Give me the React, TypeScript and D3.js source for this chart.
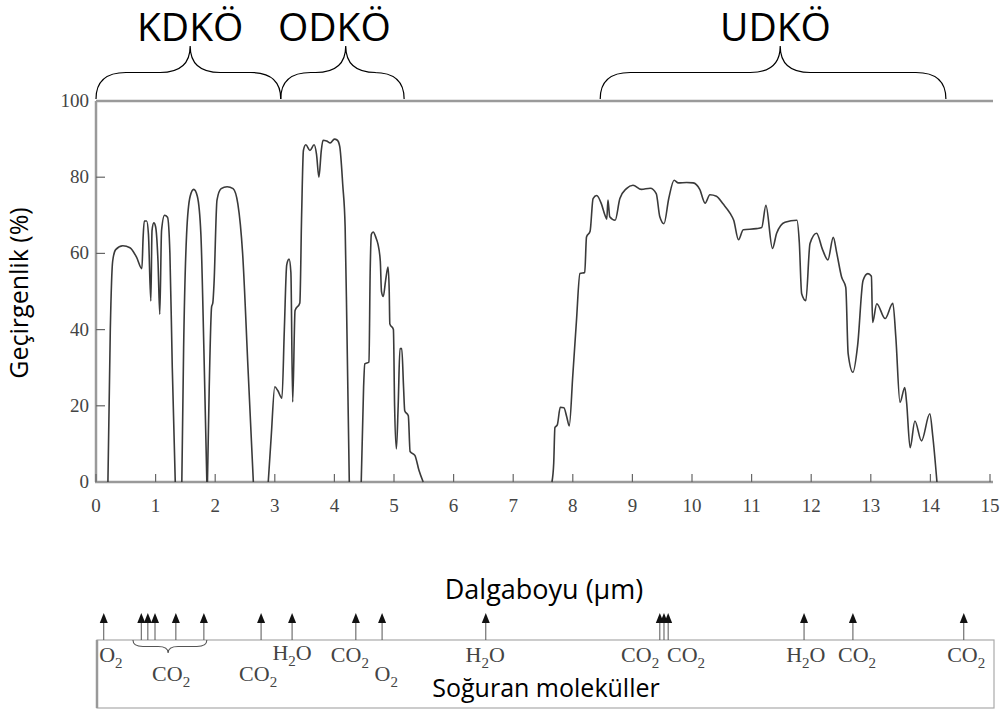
import { useRef, useEffect } from "react";
import * as d3 from "d3";

// transmittance curve, split where it sits on zero (wavelength µm, %)
const SEGMENTS: [number, number][][] = [
  [[0.2, 0], [0.24, 40], [0.28, 58], [0.33, 61], [0.45, 62], [0.57, 61.5], [0.68, 59], [0.77, 56], [0.79, 64], [0.81, 68.5], [0.85, 68.5], [0.88, 65], [0.92, 47.5], [0.94, 66], [0.97, 68], [1.0, 67], [1.04, 58], [1.07, 44], [1.1, 66], [1.15, 70], [1.2, 69.5], [1.24, 60], [1.28, 30], [1.33, 0]],
  [[1.44, 0], [1.47, 35], [1.52, 65], [1.58, 75], [1.64, 76.8], [1.7, 75], [1.76, 65], [1.81, 35], [1.86, 0]],
  [[1.87, 0], [1.9, 25], [1.94, 46], [1.96, 47], [1.98, 52], [2.03, 74], [2.1, 77], [2.2, 77.5], [2.3, 77], [2.38, 73], [2.46, 60], [2.55, 30], [2.64, 0]],
  [[2.89, 0], [2.94, 12], [3.0, 25], [3.05, 24], [3.12, 22], [3.16, 40], [3.2, 57], [3.24, 58.5], [3.27, 55], [3.3, 21], [3.34, 45], [3.42, 47], [3.45, 70], [3.48, 87], [3.52, 88.5], [3.59, 87], [3.66, 88.5], [3.7, 86], [3.74, 80], [3.78, 87], [3.81, 89.7], [3.87, 89.5], [3.93, 89], [4.0, 90], [4.05, 89.7], [4.09, 88], [4.14, 78], [4.18, 67], [4.21, 40], [4.25, 0]],
  [[4.45, 0], [4.49, 25], [4.51, 31], [4.58, 31.5], [4.6, 55], [4.62, 65], [4.65, 65.6], [4.7, 64], [4.73, 62.5], [4.77, 58], [4.79, 50], [4.82, 48.7], [4.86, 53], [4.9, 56.4], [4.92, 50], [4.93, 41.5], [4.99, 40], [5.01, 20], [5.04, 8.7], [5.07, 20], [5.1, 35], [5.13, 35], [5.16, 25], [5.18, 18.7], [5.24, 17.4], [5.27, 8], [5.35, 7], [5.42, 3], [5.49, 0]],
  [[7.65, 0], [7.68, 5], [7.7, 14.3], [7.74, 15], [7.79, 19.6], [7.85, 19.5], [7.9, 17], [7.94, 14.7], [8.0, 28], [8.06, 42], [8.12, 54.7], [8.2, 55], [8.23, 64.3], [8.29, 65.8], [8.34, 74.4], [8.4, 75.2], [8.48, 73], [8.54, 70], [8.57, 69], [8.59, 74], [8.62, 69.6], [8.71, 68.7], [8.79, 74.4], [8.9, 77], [9.01, 77.9], [9.15, 76.8], [9.3, 77.1], [9.4, 75.7], [9.46, 69.6], [9.53, 67.8], [9.61, 74.4], [9.7, 79.2], [9.77, 78.5], [9.91, 78.6], [10.02, 78.5], [10.13, 76.8], [10.22, 73.2], [10.3, 75.4], [10.41, 75], [10.52, 73], [10.64, 70.5], [10.7, 68.7], [10.78, 63.6], [10.86, 66.2], [11.08, 66.5], [11.17, 66.8], [11.24, 72.6], [11.35, 61.3], [11.42, 65.3], [11.56, 68.2], [11.76, 68.7], [11.8, 63], [11.84, 49.4], [11.91, 47.6], [11.98, 62.6], [12.09, 65.3], [12.19, 61], [12.28, 58.3], [12.37, 64.2], [12.43, 60], [12.51, 53.8], [12.58, 51.1], [12.62, 33.7], [12.7, 28.8], [12.78, 36], [12.87, 52.9], [12.95, 54.7], [13.01, 54], [13.03, 41.9], [13.1, 46.8], [13.24, 42.9], [13.37, 46.9], [13.42, 38], [13.49, 20.9], [13.57, 24.8], [13.6, 21], [13.66, 9], [13.74, 16], [13.85, 10.8], [13.99, 17.9], [14.04, 12], [14.11, 0]],
];

const X_TICKS = d3.range(0, 16);
const Y_TICKS = [0, 20, 40, 60, 80, 100];

// regions on top: [from, to, tip, label]
const REGIONS: [number, number, number, string][] = [
  [0, 3.1, 1.58, "KDKÖ"],
  [3.1, 5.17, 4.19, "ODKÖ"],
  [8.46, 14.26, 11.48, "UDKÖ"],
];
const REGION_LABEL_AT = [1.58, 4.0, 11.4];

// absorption arrows (µm)
const ARROWS = [0.13, 0.76, 0.87, 0.99, 1.34, 1.81, 2.77, 3.29, 4.36, 4.8, 6.54, 9.46, 9.53, 9.6, 11.88, 12.7, 14.56];

// molecule labels: [µm centre, formula base, subscript, tail, row]
const MOLECULES: [number, string, string, string, number][] = [
  [0.25, "O", "2", "", 0],
  [1.26, "CO", "2", "", 1],
  [2.72, "CO", "2", "", 1],
  [3.29, "H", "2", "O", -1],
  [4.26, "CO", "2", "", 0],
  [4.87, "O", "2", "", 1],
  [6.53, "H", "2", "O", 0],
  [9.13, "CO", "2", "", 0],
  [9.9, "CO", "2", "", 0],
  [11.91, "H", "2", "O", 0],
  [12.77, "CO", "2", "", 0],
  [14.6, "CO", "2", "", 0],
];
const CO2_GROUP = [0.62, 1.86, 1.21];

const SANS = "'Open Sans', sans-serif";
const SERIF = "'Liberation Serif', 'DejaVu Serif', serif";

function bracePath(x1: number, x2: number, xt: number, yb: number, yt: number, q: number) {
  const ym = (yb + yt) / 2;
  return `M${x1},${yb} Q${x1},${ym} ${x1 + q},${ym} L${xt - q},${ym} Q${xt},${ym} ${xt},${yt} ` +
    `Q${xt},${ym} ${xt + q},${ym} L${x2 - q},${ym} Q${x2},${ym} ${x2},${yb}`;
}

export default function App() {
  const ref = useRef<SVGSVGElement>(null);

  useEffect(() => {
    if (!ref.current) return;
    const svg = d3.select(ref.current);
    svg.selectAll("*").remove();

    const x = d3.scaleLinear().domain([0, 15]).range([96, 990]);
    const y = d3.scaleLinear().domain([0, 100]).range([482, 101]);
    const axisColor = "#9a9a9a";

    // frame: top, left, bottom
    svg.append("line").attr("x1", 96).attr("x2", 993).attr("y1", y(100)).attr("y2", y(100))
      .attr("stroke", axisColor).attr("stroke-width", 2.5);
    svg.append("line").attr("x1", 96).attr("x2", 96).attr("y1", y(100)).attr("y2", y(0))
      .attr("stroke", axisColor).attr("stroke-width", 2.5);
    svg.append("line").attr("x1", 95).attr("x2", 993).attr("y1", y(0)).attr("y2", y(0))
      .attr("stroke", axisColor).attr("stroke-width", 2.5);

    // ticks (inside)
    X_TICKS.forEach((t) => {
      svg.append("line").attr("x1", x(t)).attr("x2", x(t)).attr("y1", y(0)).attr("y2", y(0) - 8)
        .attr("stroke", "#666").attr("stroke-width", 1.2);
      svg.append("text").attr("x", x(t)).attr("y", 512).attr("text-anchor", "middle")
        .attr("font-family", SERIF).attr("font-size", 19).attr("fill", "#444").text(t);
    });
    Y_TICKS.forEach((t) => {
      if (t > 0 && t < 100) {
        svg.append("line").attr("x1", 96).attr("x2", 105).attr("y1", y(t)).attr("y2", y(t))
          .attr("stroke", "#666").attr("stroke-width", 1.2);
      }
      svg.append("text").attr("x", 89).attr("y", y(t) + 6).attr("text-anchor", "end")
        .attr("font-family", SERIF).attr("font-size", 19).attr("fill", "#444").text(t);
    });

    // curve
    const line = d3.line<[number, number]>().x((d) => x(d[0])).y((d) => y(d[1])).curve(d3.curveMonotoneX);
    SEGMENTS.forEach((seg) => {
      svg.append("path").attr("d", line(seg)).attr("fill", "none")
        .attr("stroke", "#3a3a3a").attr("stroke-width", 1.6);
    });

    // axis titles
    svg.append("text").attr("transform", "translate(28,293) rotate(-90)").attr("text-anchor", "middle")
      .attr("font-family", SANS).attr("font-size", 25).attr("fill", "#000").text("Geçirgenlik (%)");
    svg.append("text").attr("x", 544).attr("y", 599).attr("text-anchor", "middle")
      .attr("font-family", SANS).attr("font-size", 27).attr("fill", "#000").text("Dalgaboyu (µm)");

    // region braces
    REGIONS.forEach(([a, b, tip, label], i) => {
      svg.append("path").attr("d", bracePath(x(a), x(b), x(tip), 99, 46, 30))
        .attr("fill", "none").attr("stroke", "#000").attr("stroke-width", 1.2);
      svg.append("text").attr("x", x(REGION_LABEL_AT[i])).attr("y", 41).attr("text-anchor", "middle")
        .attr("font-family", SANS).attr("font-size", 39).attr("fill", "#000").text(label);
    });

    // molecules box
    const boxTop = 640;
    svg.append("rect").attr("x", 97).attr("y", boxTop).attr("width", 897).attr("height", 68)
      .attr("fill", "none").attr("stroke", "#aaa").attr("stroke-width", 1.2);
    svg.append("line").attr("x1", 97).attr("x2", 97).attr("y1", boxTop).attr("y2", 708)
      .attr("stroke", "#999").attr("stroke-width", 2.5);

    ARROWS.forEach((a) => {
      const ax = x(a);
      svg.append("line").attr("x1", ax).attr("x2", ax).attr("y1", boxTop - 18).attr("y2", boxTop)
        .attr("stroke", "#555").attr("stroke-width", 1);
      svg.append("path").attr("d", `M${ax},${boxTop - 27} L${ax - 4},${boxTop - 17} L${ax + 4},${boxTop - 17} Z`)
        .attr("fill", "#111");
    });

    svg.append("path")
      .attr("d", bracePath(x(CO2_GROUP[0]), x(CO2_GROUP[1]), x(CO2_GROUP[2]), boxTop, boxTop + 13, 10))
      .attr("fill", "none").attr("stroke", "#555").attr("stroke-width", 1.1);

    MOLECULES.forEach(([a, base, sub, tail, row]) => {
      const by = row === 1 ? 681 : row === -1 ? 660 : 662;
      const t = svg.append("text").attr("x", x(a)).attr("y", by).attr("text-anchor", "middle")
        .attr("font-family", SERIF).attr("font-size", 22).attr("fill", "#444");
      t.append("tspan").text(base);
      t.append("tspan").attr("dy", 6).attr("font-size", 15).text(sub);
      if (tail) t.append("tspan").attr("dy", -6).text(tail);
    });

    svg.append("text").attr("x", 546).attr("y", 697).attr("text-anchor", "middle")
      .attr("font-family", SANS).attr("font-size", 25).attr("fill", "#000").text("Soğuran moleküller");
  }, []);

  return (
    <svg ref={ref} width={1007} height={709}
      style={{ position: "absolute", left: 0, top: 0, background: "#fff", display: "block" }} />
  );
}
